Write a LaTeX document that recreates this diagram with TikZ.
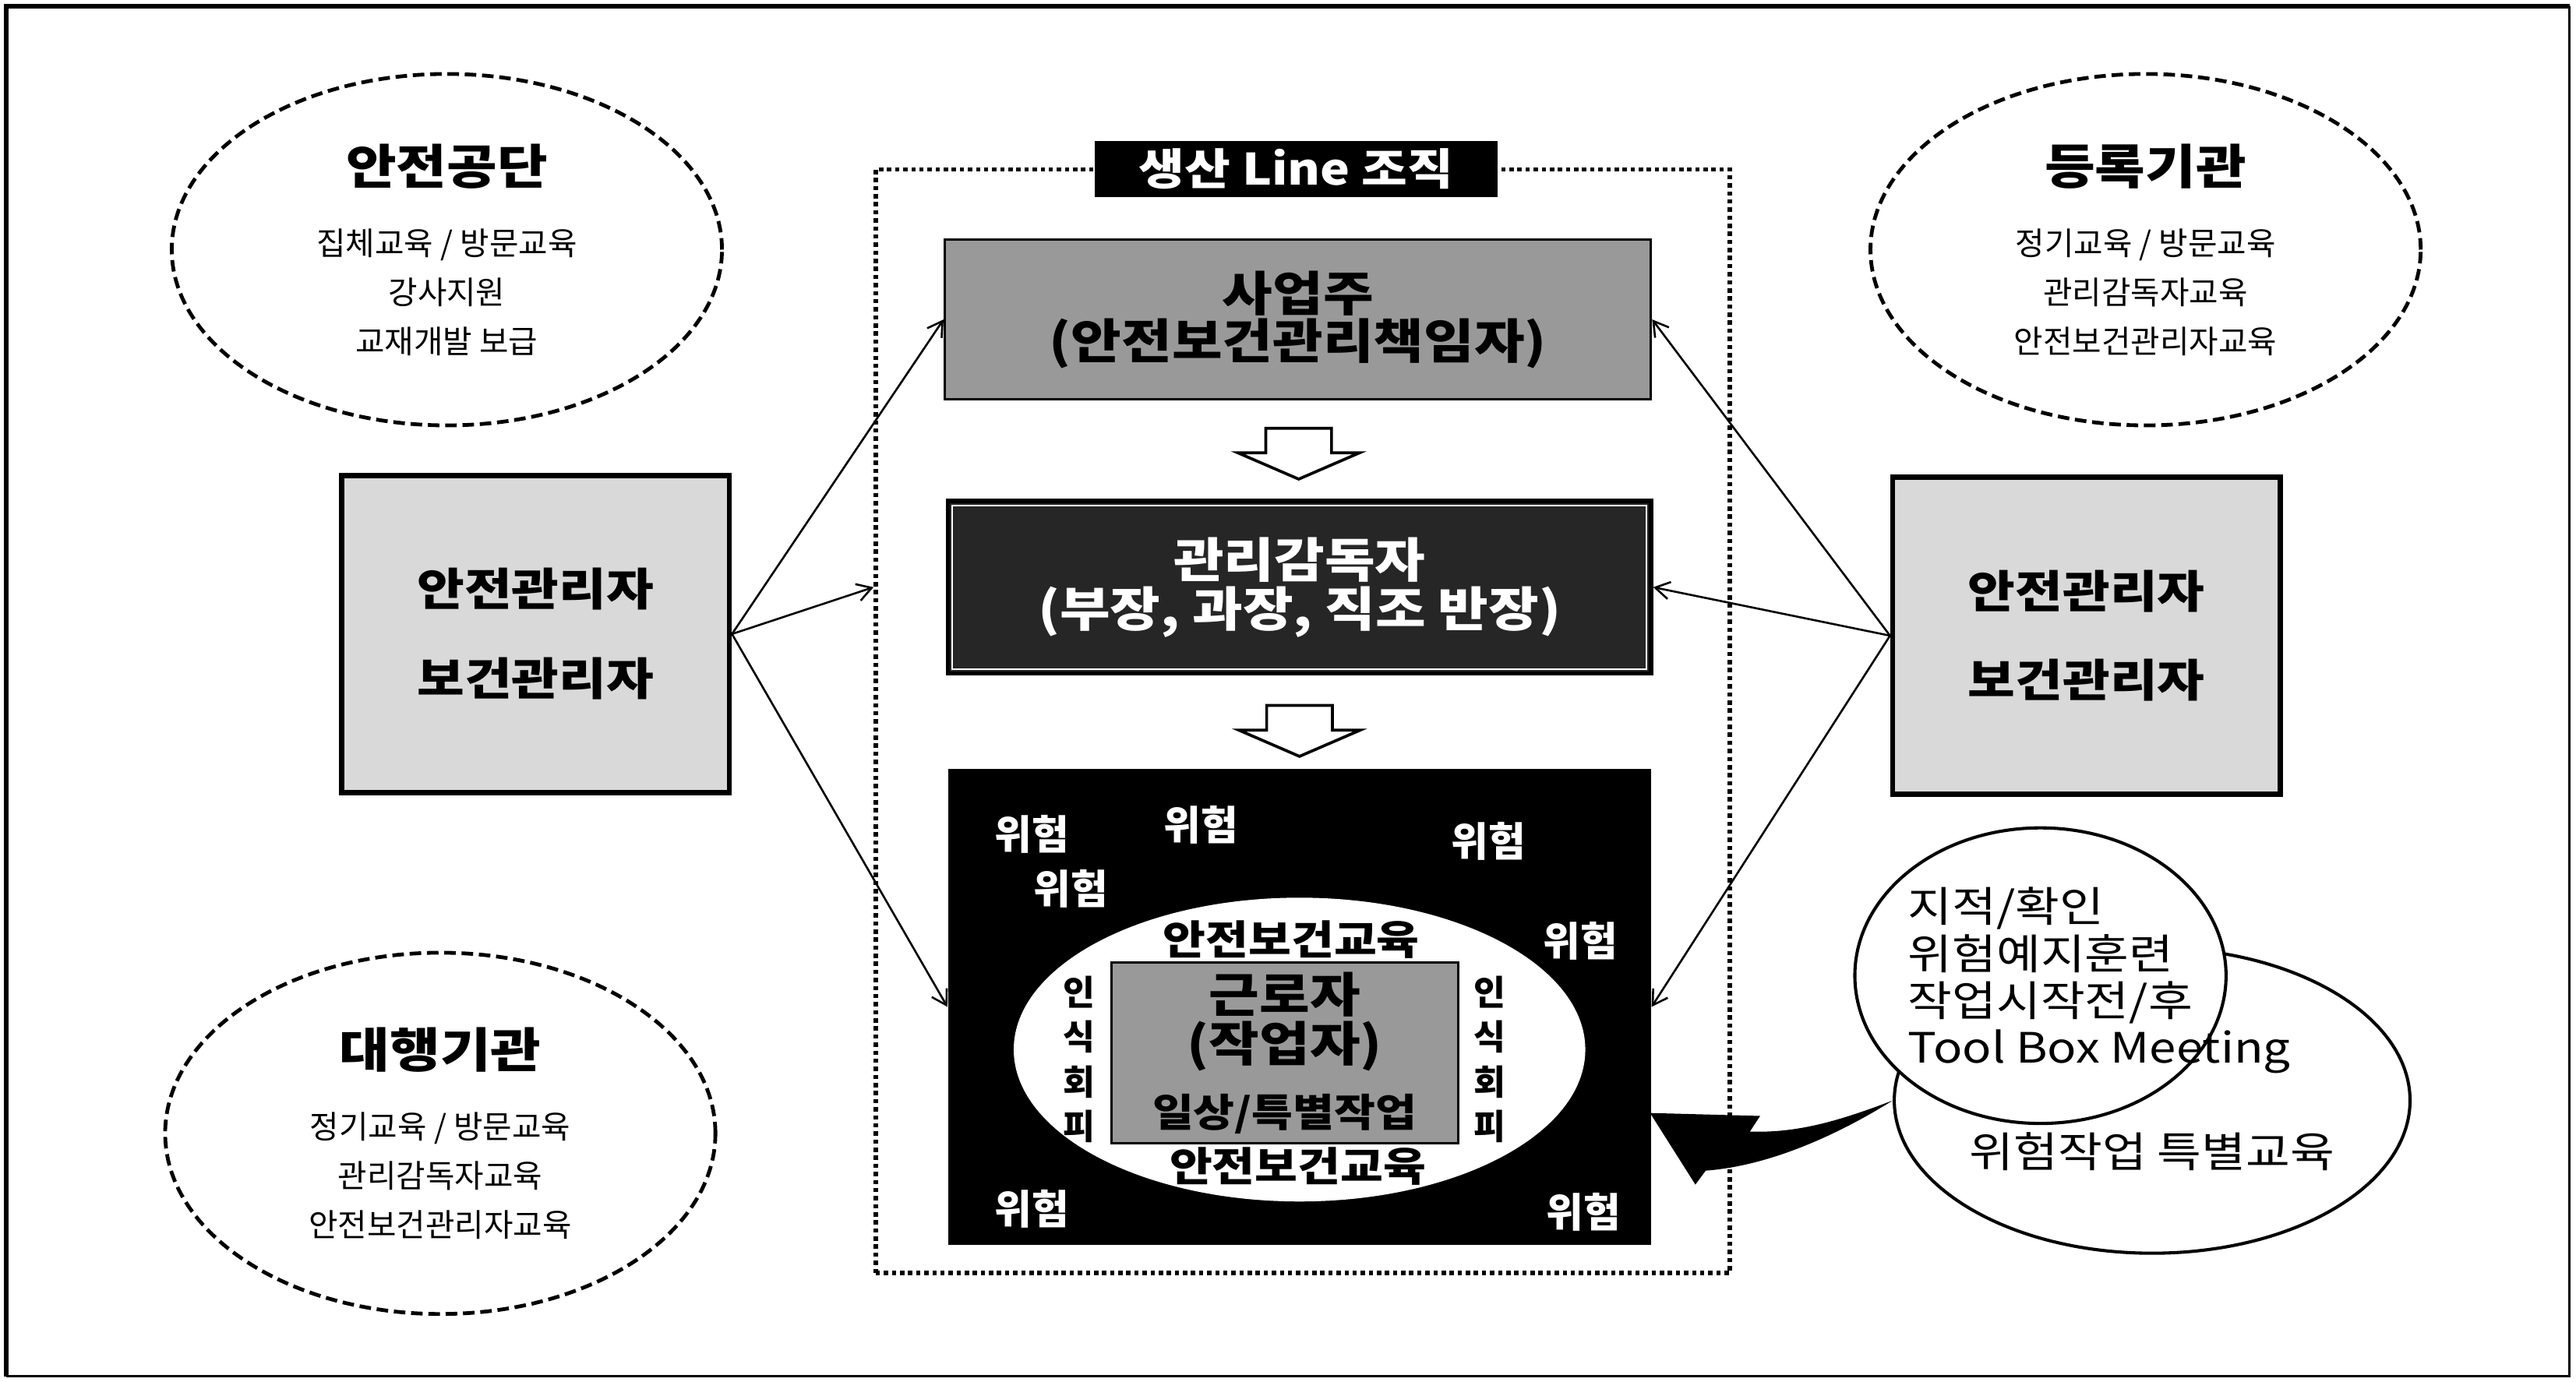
\documentclass[tikz,border=0pt]{standalone}
\usepackage{fontspec}
\setmainfont{Noto Sans CJK KR}
\newfontfamily\widefont{Noto Sans CJK KR}[FakeStretch=1.15]
\usepackage{tikz}
\usetikzlibrary{arrows.meta, calc, shapes.geometric}
\newcommand{\orgtitle}[1]{{\widefont\bfseries\fontsize{16.5}{20}\selectfont #1}}
\tikzset{
  orgellipse/.style={ellipse, draw, line width=1.3pt, dash pattern=on 4pt off 2pt,
                     minimum width=6.7cm, minimum height=4.28cm, inner sep=0pt,
                     align=center, font=\fontsize{11}{17}\selectfont},
  staffbox/.style={draw, line width=1.8pt, fill=black!15, minimum width=4.72cm,
                   minimum height=3.86cm, align=center,
                   font=\widefont\bfseries\fontsize{15.5}{31}\selectfont},
  linebox/.style={draw, minimum width=8.6cm, align=center,
                  font=\widefont\bfseries\fontsize{16.5}{16.5}\selectfont},
  hazard/.style={text=white, font=\bfseries\fontsize{14}{14}\selectfont},
  eduword/.style={font=\widefont\bfseries\fontsize{14}{14}\selectfont},
  vertword/.style={align=center, inner sep=0pt, font=\bfseries\fontsize{12}{15.5}\selectfont},
  toolring/.style={ellipse, draw, fill=white, line width=1.1pt},
  arrow/.style={-{Straight Barb[length=5pt,width=6pt]}, line width=0.7pt},
  downblock/.pic={\draw[fill=white, line width=1pt] (-20,-15) -- (20,-15) -- (20,0)
                  -- (37,0) -- (0,16) -- (-37,0) -- (-20,0) -- cycle;},
}

\begin{document}
\begin{tikzpicture}[x=0.02cm, y=-0.02cm]
  \useasboundingbox (0,0) rectangle (1568,841);

  % Outer frame
  \draw[line width=1.6pt] (4,838) -- (4,4) -- (1564,4);
  \draw[line width=0.8pt] (1564,4) -- (1564,838) -- (4,838);

  % Outside bodies
  \node[orgellipse] (kosha) at (272,152)
    {\orgtitle{안전공단}\\[7.5pt]집체교육 / 방문교육\\강사지원\\교재개발 보급};
  \node[orgellipse] (regist) at (1306,152)
    {\orgtitle{등록기관}\\[7.5pt]정기교육 / 방문교육\\관리감독자교육\\안전보건관리자교육};
  \node[orgellipse, minimum height=4.4cm] (agency) at (268,690)
    {\orgtitle{대행기관}\\[7.5pt]정기교육 / 방문교육\\관리감독자교육\\안전보건관리자교육};

  % Safety / health managers
  \node[staffbox] (safeL) at (326,386) {안전관리자\\보건관리자};
  \node[staffbox] (safeR) at (1270,387) {안전관리자\\보건관리자};

  % Production line organisation
  \node[draw, line width=1.5pt, dash pattern=on 1.5pt off 1.3pt, minimum width=10.4cm,
        minimum height=13.44cm] (frame) at (793,439) {};
  \node[fill=black, text=white, minimum width=4.9cm, minimum height=0.68cm,
        inner sep=0pt, font=\widefont\bfseries\fontsize{15}{15}\selectfont]
    (linelabel) at (789,103) {생산 Line 조직};

  \node[linebox, fill=black!40, line width=0.8pt, minimum height=1.94cm]
    (owner) at (790,194.5) {사업주\\(안전보건관리책임자)};
  \node[linebox, fill=black!85, text=white, line width=1.5pt, minimum width=8.56cm,
        minimum height=2.1cm, font=\widefont\bfseries\fontsize{16.5}{17}\selectfont]
    (mgr) at (791,357.5) {관리감독자\\(부장, 과장, 직조 반장)};
  \draw[white, line width=0.6pt] ([shift={(4,4)}]mgr.north west)
    rectangle ([shift={(-4,-4)}]mgr.south east);

  \node[fill=black, minimum width=8.56cm, minimum height=5.8cm] (work) at (791,613) {};

  \pic at ($(owner.south)!.5!(mgr.north)+(0,2)$) {downblock};
  \pic at ($(mgr.south)!.5!(work.north)+(0,5)$) {downblock};

  % Worker in the middle
  \node[ellipse, fill=white, minimum width=6.96cm, minimum height=3.7cm]
    (ring) at (791,639) {};
  \node[draw, fill=black!40, line width=0.8pt, minimum width=4.22cm,
        minimum height=2.12cm, align=center,
        font=\widefont\bfseries\fontsize{16.5}{17}\selectfont] (worker) at (782,641)
    {근로자\\(작업자)\\[5.7pt]{\fontsize{13.5}{14}\selectfont 일상/특별작업}};
  \node[eduword] (eduTop) at (786,572) {안전보건교육};
  \node[eduword] (eduBot) at (790,710) {안전보건교육};
  \node[vertword] (avoidL) at (657,645) {인\\식\\회\\피};
  \node[vertword] (avoidR) at (907,645) {인\\식\\회\\피};

  % Hazards
  \node[hazard] (hz1) at (628,508) {위험};
  \node[hazard] (hz2) at (731,502) {위험};
  \node[hazard] (hz3) at (906,512) {위험};
  \node[hazard] (hz4) at (652,541) {위험};
  \node[hazard] (hz5) at (962,573) {위험};
  \node[hazard] (hz6) at (628,736) {위험};
  \node[hazard] (hz7) at (964,738) {위험};

  % Tool box meeting
  \node[toolring, minimum width=6.28cm, minimum height=3.72cm] (toolB) at (1310,670) {};
  \node[toolring, minimum width=4.52cm, minimum height=3.6cm] (toolA) at (1242,594) {};
  \node[anchor=west, align=left, inner sep=0pt,
        font=\widefont\fontsize{14.5}{16.3}\selectfont]
    (tbm) at (1161,597) {지적/확인\\위험예지훈련\\작업시작전/후\\Tool Box Meeting};
  \node[font=\widefont\fontsize{14.5}{15}\selectfont] (special) at (1310,701)
    {위험작업 특별교육};

  % Big arrow to the work place
  \fill (toolB.west) .. controls +(-34,13) and +(28,1) .. ++(-86.9,18.9)
    -- ++(6.2,-9.5) -- ++(-67,-1.8) -- ++(27.6,43.6) -- ++(6.3,-8.5)
    .. controls +(40,-3) and +(-32,20) .. (toolB.west) -- cycle;

  % Arrows
  \draw[arrow] (safeL.east) -- (owner.west);
  \draw[arrow] (safeL.east) -- (frame.west |- mgr.west);
  \draw[arrow] (safeL.east) -- (work.west);
  \draw[arrow] (safeR.west) -- (owner.east);
  \draw[arrow] (safeR.west) -- (mgr.east);
  \draw[arrow] (safeR.west) -- (work.east);

\end{tikzpicture}
\end{document}
